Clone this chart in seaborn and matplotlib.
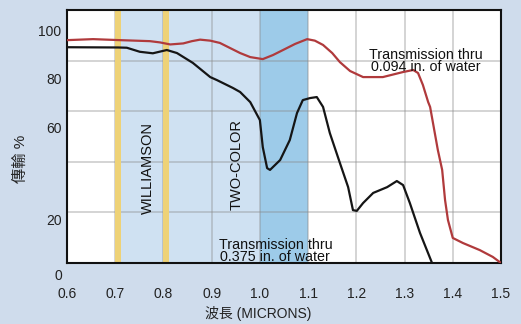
import matplotlib
matplotlib.use("Agg")
import matplotlib.pyplot as plt
import matplotlib.transforms as mtransforms
import seaborn as sns
import pandas as pd

# transmission thru 0.375 in. of water (black)
wavelength_375 = [0.600, 0.706, 0.724, 0.751, 0.778, 0.807, 0.828, 0.861, 0.897, 0.911,
                  0.944, 0.959, 0.980, 1.000, 1.006, 1.015, 1.021, 1.042, 1.062, 1.077,
                  1.089, 1.104, 1.118, 1.131, 1.145, 1.166, 1.183, 1.193, 1.201, 1.214,
                  1.235, 1.264, 1.284, 1.297, 1.311, 1.332, 1.357]
trans_375 = [85.3, 85.2, 85.1, 83.5, 82.9, 84.2, 83.0, 79.1, 73.5, 72.3,
             69.2, 67.6, 63.6, 56.5, 45.8, 37.5, 36.8, 40.7, 48.6, 59.3,
             64.4, 65.2, 65.6, 61.7, 51.4, 39.5, 30.0, 20.9, 20.6, 23.7,
             27.7, 30.0, 32.4, 30.8, 23.7, 11.9, 0.0]

# transmission thru 0.094 in. of water (red)
wavelength_094 = [0.600, 0.654, 0.710, 0.772, 0.793, 0.814, 0.841, 0.859, 0.876, 0.897,
                  0.917, 0.938, 0.959, 0.980, 1.006, 1.027, 1.048, 1.073, 1.098, 1.114,
                  1.131, 1.150, 1.166, 1.187, 1.214, 1.255, 1.297, 1.318, 1.328, 1.338,
                  1.349, 1.353, 1.369, 1.378, 1.384, 1.390, 1.400, 1.421, 1.456, 1.483,
                  1.500]
trans_094 = [88.1, 88.5, 88.1, 87.7, 87.2, 86.4, 86.8, 87.7, 88.3, 87.9,
             87.0, 85.0, 83.0, 81.4, 80.6, 82.2, 84.2, 86.6, 88.5, 87.9,
             86.2, 83.0, 79.4, 75.9, 73.5, 73.5, 75.5, 76.3, 75.1, 70.4,
             63.6, 61.7, 44.7, 36.8, 24.9, 17.0, 9.9, 7.9, 5.1, 2.4,
             0.0]

x_ticks = [0.6, 0.7, 0.8, 0.9, 1.0, 1.1, 1.2, 1.3, 1.4, 1.5]
y_tick_labels = ["20", "60", "80", "100"]
y_tick_pos = [17.0, 53.4, 73.1, 91.9]   # labels sit off the grid in the original
y_grid = [20, 40, 60, 80]

df_375 = pd.DataFrame({"wavelength": wavelength_375, "trans": trans_375})
df_094 = pd.DataFrame({"wavelength": wavelength_094, "trans": trans_094})

sns.set_theme(style="white")
plt.rcParams["font.family"] = ["Liberation Sans", "Noto Sans CJK TC", "DejaVu Sans"]

bg = "#cfdcec"
fig = plt.figure(figsize=(5.21, 3.24), dpi=100, facecolor=bg)
ax = fig.add_axes([0.1286, 0.1883, 0.8330, 0.7807])
ax.set_facecolor("white")

# bands
ax.axvspan(0.7, 1.1, color="#cfe1f2", zorder=0.2, lw=0)
ax.axvspan(1.0, 1.1, color="#9dcbe9", zorder=0.3, lw=0)

sns.lineplot(data=df_375, x="wavelength", y="trans", color="#151515", lw=1.6, ax=ax,
             zorder=3, solid_joinstyle="round")
sns.lineplot(data=df_094, x="wavelength", y="trans", color="#b03a3c", lw=1.6, ax=ax,
             zorder=3, solid_joinstyle="round")

ax.axvspan(0.699, 0.712, color="#eed277", zorder=0.7, lw=0)
ax.axvspan(0.799, 0.811, color="#eed277", zorder=0.7, lw=0)

ax.set_xlim(0.6, 1.5)
ax.set_ylim(0, 100)

# x grid on major ticks, y grid on minor ticks (y labels are off-grid)
ax.set_xticks(x_ticks)
ax.set_xticklabels([f"{v:.1f}" for v in x_ticks])
ax.set_yticks(y_tick_pos)
ax.set_yticklabels(y_tick_labels)
ax.set_yticks(y_grid, minor=True)
ax.grid(False)
ax.grid(axis="x", which="major", color="#888888", alpha=0.45, lw=1.1)
ax.grid(axis="y", which="minor", color="#888888", alpha=0.45, lw=1.1)
ax.set_axisbelow(True)
ax.tick_params(which="both", length=0)
ax.tick_params(axis="x", which="major", pad=17, labelsize=10, colors="#222222")
ax.tick_params(axis="y", which="major", pad=4, labelsize=10, colors="#222222")

trans = mtransforms.blended_transform_factory(ax.transAxes, ax.transData)
ax.text(-0.011, -5.3, "0", transform=trans, ha="right", va="center",
        fontsize=10, color="#222222", clip_on=False)

for s in ax.spines.values():
    s.set_visible(True)
    s.set_color("#111111")
    s.set_linewidth(1.5)

ax.text(0.768, 37.4, "WILLIAMSON", rotation=90, ha="center", va="center",
        fontsize=10.5, color="#111111", zorder=4)
ax.text(0.951, 39.1, "TWO-COLOR", rotation=90, ha="center", va="center",
        fontsize=10.5, color="#111111", zorder=4)
ax.text(1.345, 79.8, "Transmission thru\n0.094 in. of water", ha="center", va="center",
        fontsize=10.3, linespacing=0.8, color="#111111", zorder=4)
ax.text(1.032, 4.7, "Transmission thru\n0.375 in. of water", ha="center", va="center",
        fontsize=10.3, linespacing=0.8, color="#111111", zorder=2, clip_on=False)

ax.set_xlabel("波長 (MICRONS)", fontsize=10, color="#222222")
ax.set_ylabel("傳輸 %", fontsize=11, color="#222222")
ax.xaxis.set_label_coords(0.44, -0.17)
ax.yaxis.set_label_coords(-0.09, 0.41)

fig.savefig("out.png", dpi=100, facecolor=bg)
